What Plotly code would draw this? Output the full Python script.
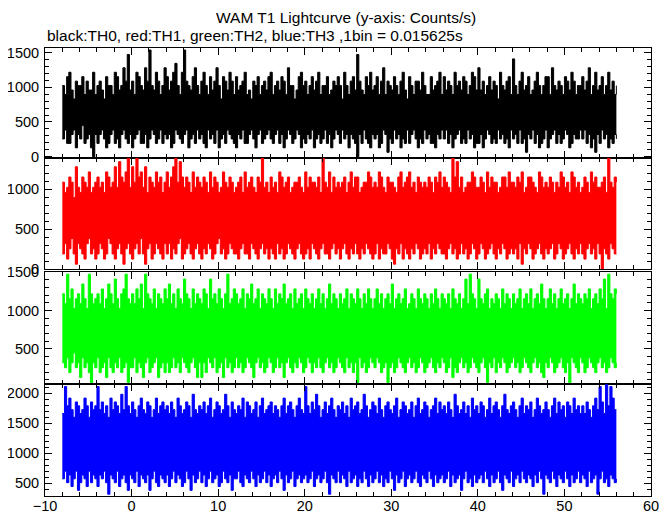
import plotly.graph_objects as go

TITLE = "WAM T1 Lightcurve (y-axis: Counts/s)"
SUBTITLE = "black:TH0, red:TH1, green:TH2, blue:TH3 ,1bin = 0.015625s"
BIN_WIDTH = 0.015625  # s per bin
T_START = -8.0        # s
T_STEP = 0.25         # envelope sampling, s

# Upper / lower envelopes, counts per 1/64-s bin
# (x64 -> counts/s), one value every 0.25 s from t=-8 to t=56 (16 per row = 4 s)
top0 = [16,14,18,19,15,13,17,16,16,18,14,17,15,15,19,14,
        16,17,15,13,18,16,16,14,19,18,15,16,20,17,23,15,
        17,14,19,18,16,15,20,17,24,16,15,19,17,14,16,20,
        18,15,17,19,21,16,14,19,24,17,16,15,18,20,16,14,
        17,19,16,14,18,15,17,20,16,13,18,17,15,19,17,14,
        18,15,16,17,19,14,15,13,17,16,18,14,16,17,15,18,
        19,14,16,17,15,18,17,14,20,16,16,13,15,18,19,16,
        17,14,16,18,15,17,19,14,16,16,18,14,15,17,16,18,
        16,13,19,16,14,17,18,15,23,17,15,14,18,16,19,15,
        16,18,14,17,20,14,17,16,15,18,16,14,17,19,15,13,
        18,16,14,17,17,15,19,16,14,14,18,15,16,17,19,14,
        18,15,17,16,14,19,16,17,15,18,17,14,16,19,18,15,
        20,15,17,14,16,18,15,17,16,13,19,16,15,17,18,14,
        22,16,14,17,19,15,16,18,14,15,17,19,16,14,16,18,
        18,14,20,16,15,17,16,14,18,17,15,19,17,14,16,16,
        18,15,17,20,14,16,19,15,16,18,14,16,19,15,17,14,
        16]
bot0 = [4,6,3,3,5,6,2,5,4,7,3,4,5,2,0,5,
        3,5,6,4,2,3,5,6,3,4,2,5,6,4,3,5,
        2,4,5,6,3,3,5,2,4,6,5,3,4,6,3,5,
        4,5,2,3,6,5,4,3,5,6,2,4,5,3,6,4,
        5,3,2,6,4,5,3,6,2,4,5,3,6,5,4,3,
        2,5,4,6,3,3,5,6,4,2,5,6,3,4,5,6,
        4,3,5,6,3,5,2,4,6,5,3,4,6,5,2,4,
        3,5,4,6,2,4,5,3,4,6,3,5,2,4,6,5,
        3,6,4,5,2,5,4,3,0,5,3,6,4,3,2,5,
        4,5,2,3,6,5,1,4,3,6,4,5,2,4,3,6,
        3,5,6,4,2,4,3,6,4,5,3,3,2,5,4,6,
        4,6,3,5,2,4,5,6,3,4,3,6,4,5,2,3,
        3,5,2,4,6,5,3,4,3,6,4,5,3,4,2,6,
        4,5,3,6,3,4,1,5,4,6,3,5,2,3,4,6,
        2,4,5,6,3,5,3,4,6,5,2,3,5,4,4,6,
        4,6,3,5,2,4,1,5,3,6,4,5,2,4,3,5,
        4]
top1 = [17,15,16,18,17,14,20,16,15,18,17,16,19,15,16,17,
        18,16,17,15,19,18,16,17,20,16,21,18,17,19,22,16,
        20,17,22,18,19,16,20,15,18,17,16,19,17,18,15,17,
        19,16,18,20,22,17,21,18,16,18,17,15,19,16,18,17,
        16,18,17,15,19,16,18,17,15,16,19,17,16,18,17,15,
        16,17,18,15,19,16,17,18,16,15,18,17,22,16,17,15,
        18,16,17,15,19,18,16,17,18,15,16,17,17,18,16,15,
        19,16,18,17,17,16,18,15,22,17,16,19,15,18,16,17,
        16,17,18,15,17,19,16,18,18,15,16,17,17,19,18,16,
        17,16,19,18,16,15,18,17,17,16,15,18,19,16,17,18,
        19,16,17,15,18,17,16,17,16,18,17,15,18,17,19,16,
        18,17,16,15,22,18,21,16,18,15,16,17,17,19,18,16,
        16,18,17,15,19,16,18,17,17,15,16,18,18,16,19,17,
        17,16,18,17,19,15,16,18,18,17,16,15,19,18,16,17,
        16,18,17,15,17,16,19,18,16,17,15,19,18,16,17,15,
        16,18,17,15,19,17,18,16,16,17,18,15,22,17,16,18,
        17]
bot1 = [3,5,2,4,6,3,1,5,4,3,2,5,6,3,4,2,
        3,5,4,2,3,6,5,3,2,4,5,3,1,4,5,3,
        2,4,5,3,6,3,1,4,5,2,3,5,4,3,2,5,
        3,5,2,4,3,5,6,2,3,4,5,3,2,4,5,3,
        2,4,3,5,4,2,3,5,6,3,4,2,3,5,4,3,
        3,2,4,5,3,3,2,5,4,3,2,4,5,3,4,2,
        4,3,2,5,3,4,2,3,5,4,3,2,4,5,3,2,
        3,4,2,5,4,3,2,4,5,3,3,2,4,5,3,4,
        2,4,5,3,2,4,3,5,3,2,4,3,5,4,3,2,
        3,5,2,4,3,3,5,4,2,1,4,3,5,2,4,3,
        2,4,3,5,4,2,3,4,3,5,2,4,3,5,4,3,
        3,2,4,5,3,4,2,3,5,3,4,2,3,5,4,2,
        3,5,4,2,3,4,5,3,2,4,3,5,4,2,3,4,
        3,4,2,5,1,4,3,5,4,2,3,4,5,3,2,4,
        3,4,5,2,3,5,4,2,3,4,5,3,2,4,3,5,
        3,2,4,5,3,4,2,5,3,0,4,3,2,5,4,3,
        3]
top2 = [19,17,23,18,20,16,18,19,17,21,18,16,23,19,17,18,
        19,17,20,16,18,21,19,17,22,18,16,19,20,23,18,17,
        19,17,20,18,21,16,23,19,18,17,20,16,19,18,17,20,
        18,21,17,19,16,20,18,17,22,19,18,16,20,17,19,18,
        17,20,19,16,22,18,19,17,20,18,16,19,23,17,18,20,
        19,17,18,20,16,19,18,21,17,18,20,16,19,18,17,20,
        18,16,20,17,19,18,21,17,18,19,16,20,17,18,19,16,
        20,18,17,19,16,18,20,17,19,16,18,21,17,19,18,16,
        19,17,18,20,16,19,18,17,20,18,16,19,17,20,18,16,
        18,20,17,19,16,18,19,17,21,16,18,19,17,18,20,16,
        17,19,18,16,20,18,17,19,18,16,19,17,20,18,16,19,
        18,17,19,16,20,18,17,19,16,18,22,17,23,19,18,16,
        22,18,17,19,20,16,18,17,19,18,16,20,17,19,18,16,
        19,17,18,20,16,18,19,17,20,16,18,19,17,21,18,16,
        18,20,17,19,16,18,20,17,18,19,16,18,21,17,19,18,
        17,19,18,20,16,18,19,17,20,18,22,16,23,19,18,20,
        19]
bot2 = [5,4,6,3,5,7,4,5,2,6,4,5,3,1,5,4,
        6,3,4,5,2,6,4,3,5,4,6,3,4,5,1,4,
        4,6,3,5,4,2,5,6,3,4,5,6,2,4,5,3,
        5,3,4,6,4,5,3,6,5,4,3,5,6,4,2,5,
        2,5,3,6,5,4,6,3,4,5,2,6,4,5,3,4,
        6,4,5,3,4,6,5,4,2,5,6,4,5,3,4,6,
        5,3,4,6,4,5,2,5,6,4,3,5,4,6,5,3,
        4,6,5,3,5,4,6,4,3,5,6,4,5,3,4,6,
        5,4,3,6,4,5,3,5,1,6,4,5,3,4,6,5,
        4,6,5,3,4,5,1,4,5,3,4,6,5,4,3,5,
        6,4,5,3,4,6,5,3,4,5,6,4,3,5,4,6,
        5,3,4,6,2,4,3,5,6,4,5,3,4,6,5,4,
        3,5,6,4,1,5,4,6,3,5,4,6,5,3,4,5,
        6,4,5,3,4,6,5,4,3,5,6,4,5,3,2,5,
        4,6,5,3,4,5,6,4,3,5,1,6,5,4,3,6,
        5,3,4,6,5,4,3,5,6,4,5,3,4,6,5,4,
        5]
top3 = [26,33,28,30,27,25,29,28,26,27,30,28,25,29,27,28,
        33,27,29,26,28,25,30,27,29,28,26,31,27,33,28,26,
        29,27,25,28,30,27,26,29,28,25,27,30,26,28,29,27,
        28,26,29,27,25,30,28,26,27,29,28,25,31,27,26,28,
        27,29,26,28,30,25,27,29,28,26,27,31,28,25,29,27,
        26,28,27,30,25,29,28,26,27,29,25,28,30,26,27,28,
        29,26,28,27,25,28,30,26,28,29,27,25,28,30,27,26,
        33,28,26,29,27,31,28,25,27,29,26,28,30,27,25,28,
        27,29,26,28,25,30,27,28,29,26,27,31,28,25,27,29,
        28,26,30,27,25,28,29,27,26,28,30,25,27,29,28,26,
        27,29,25,28,30,26,27,29,28,25,27,28,30,26,29,27,
        28,26,29,27,25,31,28,26,27,29,26,28,25,30,27,28,
        26,29,28,25,27,30,26,28,29,27,25,28,31,27,26,28,
        29,27,25,28,30,26,28,27,29,25,27,30,28,26,27,29,
        27,25,28,30,26,29,27,28,25,29,28,26,30,27,28,26,
        28,26,29,27,25,28,30,27,33,29,26,34,28,33,30,27,
        27]
bot3 = [9,11,8,10,7,9,11,6,8,10,9,7,11,8,10,9,
        7,10,9,11,8,5,10,9,8,11,7,9,10,8,6,10,
        9,8,11,7,10,9,8,10,6,9,11,8,7,10,9,8,
        10,7,9,11,8,10,9,7,8,11,9,6,10,8,9,11,
        8,10,7,9,11,8,9,10,7,8,11,9,8,10,6,9,
        9,11,8,7,10,9,8,11,9,7,10,8,9,11,8,10,
        7,9,10,8,11,9,6,10,8,9,11,7,9,10,8,9,
        10,8,9,11,7,9,10,8,9,11,8,5,10,9,8,11,
        8,10,9,7,11,8,9,10,7,9,8,11,9,7,10,8,
        9,11,8,10,7,9,8,11,9,6,10,8,9,11,7,9,
        10,8,9,11,8,7,10,9,8,11,9,7,10,8,9,10,
        8,9,11,7,10,8,9,10,6,9,11,8,9,7,10,8,
        9,10,8,11,9,7,10,8,9,11,8,6,10,9,8,11,
        7,9,10,8,11,9,8,10,9,7,10,8,11,9,5,10,
        9,8,11,9,7,10,9,8,11,9,7,10,8,9,11,8,
        10,9,7,11,8,9,10,5,9,11,8,9,7,10,9,8,
        9]

colors = ["#000000", "#ff0000", "#00ff00", "#0000ff"]
y_ranges = [[-18, 1565], [0, 1390], [40, 1500], [290, 2150]]
y_ticks = [[0, 500, 1000, 1500], [0, 500, 1000], [500, 1000, 1500], [500, 1000, 1500, 2000]]
domains = [[0.7545, 1.0], [0.506, 0.7545], [0.2493, 0.5], [0.0, 0.2493]]
x_ticks = [-10, 0, 10, 20, 30, 40, 50, 60]
tops = [top0, top1, top2, top3]
bots = [bot0, bot1, bot2, bot3]

FONT = "Liberation Sans, Arial, Helvetica, sans-serif"
scale = 1.0 / BIN_WIDTH

fig = go.Figure()
for k in range(4):
    top, bot = tops[k], bots[k]
    assert len(top) == len(bot) == 257, (k, len(top), len(bot))
    t = [T_START + T_STEP * i for i in range(len(top))]
    sfx = "" if k == 0 else str(k + 1)
    fig.add_trace(go.Scatter(
        x=t, y=[v * scale for v in bot], mode="lines",
        line=dict(color=colors[k], width=1, shape="hv"),
        xaxis="x" + sfx, yaxis="y" + sfx, showlegend=False, hoverinfo="skip"))
    fig.add_trace(go.Scatter(
        x=t, y=[v * scale for v in top], mode="lines",
        line=dict(color=colors[k], width=1, shape="hv"),
        fill="tonexty", fillcolor=colors[k],
        xaxis="x" + sfx, yaxis="y" + sfx, showlegend=False, hoverinfo="skip"))

layout = dict(
    width=664, height=507,
    margin=dict(l=37, r=21, t=40, b=19),
    paper_bgcolor="white", plot_bgcolor="white",
    font=dict(family=FONT, size=15, color="black"),
    showlegend=False,
)
for k in range(4):
    sfx = "" if k == 0 else str(k + 1)
    layout["xaxis" + sfx] = dict(
        domain=[0, 1], range=[-10, 60], anchor="y" + sfx,
        showline=True, linecolor="black", linewidth=1, mirror="allticks",
        ticks="inside", ticklen=7, tickwidth=1, tickcolor="black",
        tickvals=x_ticks, showticklabels=(k == 3),
        minor=dict(ticks="inside", dtick=2, tick0=0, ticklen=4, tickcolor="black"),
        showgrid=False, zeroline=False, automargin=False,
        tickfont=dict(family=FONT, size=14.5), ticklabelstandoff=-3,
    )
    layout["yaxis" + sfx] = dict(
        domain=domains[k], range=y_ranges[k], anchor="x" + sfx,
        showline=True, linecolor="black", linewidth=1, mirror="allticks",
        ticks="inside", ticklen=7, tickwidth=1, tickcolor="black",
        tickvals=y_ticks[k],
        minor=dict(ticks="inside", dtick=100, tick0=0, ticklen=4, tickcolor="black"),
        showgrid=False, zeroline=False, automargin=False,
        tickfont=dict(family=FONT, size=14.5), ticklabelstandoff=2,
    )
fig.update_layout(**layout)

fig.add_annotation(text=TITLE, xref="paper", yref="paper", x=0.496, y=1.069,
                   xanchor="center", yanchor="middle", showarrow=False,
                   font=dict(family=FONT, size=15.5, color="black"))
fig.add_annotation(text=SUBTITLE, xref="paper", yref="paper", x=0.0, y=1.029,
                   xanchor="left", yanchor="middle", showarrow=False,
                   font=dict(family=FONT, size=15.5, color="black"))

fig.write_html("out.html")
